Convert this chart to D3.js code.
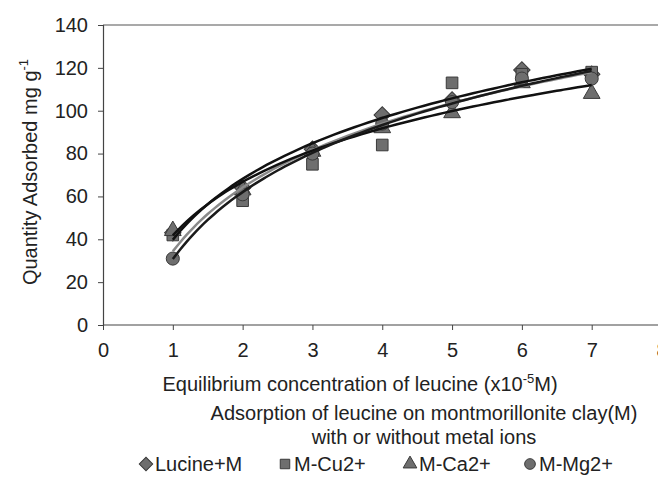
<!DOCTYPE html>
<html>
<head>
<meta charset="utf-8">
<script src="https://cdn.jsdelivr.net/npm/d3@7"></script>
<style>
  body { margin: 0; background: #fff; }
  text { font-family: "Liberation Sans", Arial, sans-serif; fill: #222; }
</style>
</head>
<body>
<svg class="chart"></svg>
<script>
var svgWidth = 658, svgHeight = 482;

var concentration = [1, 2, 3, 4, 5, 6, 7];
var lucineM = [43, 64, 82, 98, 105, 119, 117];
var mCu = [42, 58, 75, 84, 113, 117, 118];
var mCa = [44, 63, 81, 92, 99, 113, 108];
var mMg = [31, 61, 80, 94, 104, 115, 115];
var seriesNames = ['Lucine+M', 'M-Cu2+', 'M-Ca2+', 'M-Mg2+'];
var xTicks = [0, 1, 2, 3, 4, 5, 6, 7, 8];
var yTicks = [0, 20, 40, 60, 80, 100, 120, 140];

var series = [
  { name: seriesNames[0], values: lucineM, shape: 'diamond', line: '#111' },
  { name: seriesNames[1], values: mCu, shape: 'square', line: '#8a8a8a' },
  { name: seriesNames[2], values: mCa, shape: 'triangle', line: '#111' },
  { name: seriesNames[3], values: mMg, shape: 'circle', line: '#1a1a1a' }
];

var x = d3.scaleLinear().domain([0, 8]).range([103, 661.5]);
var y = d3.scaleLinear().domain([0, 140]).range([325, 25]);

var svg = d3.select('svg.chart').attr('width', svgWidth).attr('height', svgHeight);

// top border of the plot area
svg.append('line')
    .attr('x1', x(0)).attr('x2', svgWidth)
    .attr('y1', y(140)).attr('y2', y(140))
    .attr('stroke', '#555').attr('stroke-width', 1.2);

var yAxis = svg.append('g')
    .attr('transform', 'translate(' + x(0) + ',0)')
    .call(d3.axisLeft(y).tickValues(yTicks).tickSize(5).tickPadding(10));
yAxis.select('.domain').attr('stroke', '#444').attr('stroke-width', 1.2);
yAxis.selectAll('.tick line').attr('stroke', '#444');
yAxis.selectAll('text').attr('font-size', 20).attr('fill', '#222');

var xAxis = svg.append('g')
    .attr('transform', 'translate(0,' + y(0) + ')')
    .call(d3.axisBottom(x).tickValues(xTicks).tickSize(5).tickPadding(13).tickSizeOuter(0));
xAxis.select('.domain').attr('stroke', '#444').attr('stroke-width', 1.2)
    .attr('d', 'M' + x(0) + ',0H' + svgWidth);
xAxis.selectAll('.tick line').attr('stroke', '#444');
xAxis.selectAll('text').attr('font-size', 20).attr('fill', '#222');

function symbolPath(shape, size) {
  if (shape === 'diamond') return d3.symbol(d3.symbolSquare, size)();
  if (shape === 'square') return d3.symbol(d3.symbolSquare, size)();
  if (shape === 'triangle') return d3.symbol(d3.symbolTriangle, size * 0.9)();
  return d3.symbol(d3.symbolCircle, size)();
}

// markers
series.forEach(function(s) {
  svg.append('g').selectAll('path')
      .data(s.values)
      .enter()
      .append('path')
      .attr('d', symbolPath(s.shape, 135))
      .attr('transform', function(d, i) {
        var t = 'translate(' + x(concentration[i]) + ',' + y(d) + ')';
        return s.shape === 'diamond' ? t + ' rotate(45)' : t;
      })
      .attr('fill', '#6e6e6e')
      .attr('stroke', '#3a3a3a')
      .attr('stroke-width', 1);
});

// logarithmic trendlines fitted from each series
function logFit(xs, ys) {
  var lx = xs.map(Math.log);
  var mx = d3.mean(lx), my = d3.mean(ys);
  var sxy = d3.sum(lx, function(v, i) { return (v - mx) * (ys[i] - my); });
  var sxx = d3.sum(lx, function(v) { return (v - mx) * (v - mx); });
  var b = sxy / sxx;
  return { a: my - b * mx, b: b };
}

var line = d3.line()
    .x(function(d) { return x(d[0]); })
    .y(function(d) { return y(d[1]); })
    .curve(d3.curveBasis);

series.forEach(function(s) {
  var fit = logFit(concentration, s.values);
  var pts = d3.range(1, 7.001, 0.1).map(function(v) { return [v, fit.a + fit.b * Math.log(v)]; });
  svg.append('path')
      .attr('d', line(pts))
      .attr('fill', 'none')
      .attr('stroke', s.line)
      .attr('stroke-width', 2.5);
});

// axis titles
var yTitle = svg.append('text')
    .attr('transform', 'translate(37,' + 172 + ') rotate(-90)')
    .attr('text-anchor', 'middle')
    .attr('font-size', 20);
yTitle.append('tspan').text('Quantity Adsorbed mg g');
yTitle.append('tspan').attr('font-size', 13).attr('dy', -9).text('-1');

var xTitle = svg.append('text')
    .attr('x', 360).attr('y', 391)
    .attr('text-anchor', 'middle')
    .attr('font-size', 20);
xTitle.append('tspan').text('Equilibrium concentration of leucine (x10');
xTitle.append('tspan').attr('font-size', 13).attr('dy', -8).text('-5');
xTitle.append('tspan').attr('dy', 8).text('M)');

svg.append('text')
    .attr('x', 424).attr('y', 420)
    .attr('text-anchor', 'middle')
    .attr('font-size', 20)
    .text('Adsorption of leucine on montmorillonite clay(M)');
svg.append('text')
    .attr('x', 424).attr('y', 444)
    .attr('text-anchor', 'middle')
    .attr('font-size', 20)
    .text('with or without metal ions');

// legend
var legendX = [146, 285, 410, 530];
var legend = svg.append('g').attr('class', 'legend')
    .selectAll('g')
    .data(series)
    .enter()
    .append('g')
    .attr('transform', function(d, i) { return 'translate(' + legendX[i] + ',464)'; });

legend.append('path')
    .attr('d', function(d) { return symbolPath(d.shape, 90); })
    .attr('transform', function(d) { return d.shape === 'diamond' ? 'rotate(45)' : null; })
    .attr('fill', '#6e6e6e')
    .attr('stroke', '#3a3a3a');

legend.append('text')
    .attr('x', 9)
    .attr('y', 7)
    .attr('font-size', 20)
    .text(function(d) { return d.name; });
</script>
</body>
</html>
